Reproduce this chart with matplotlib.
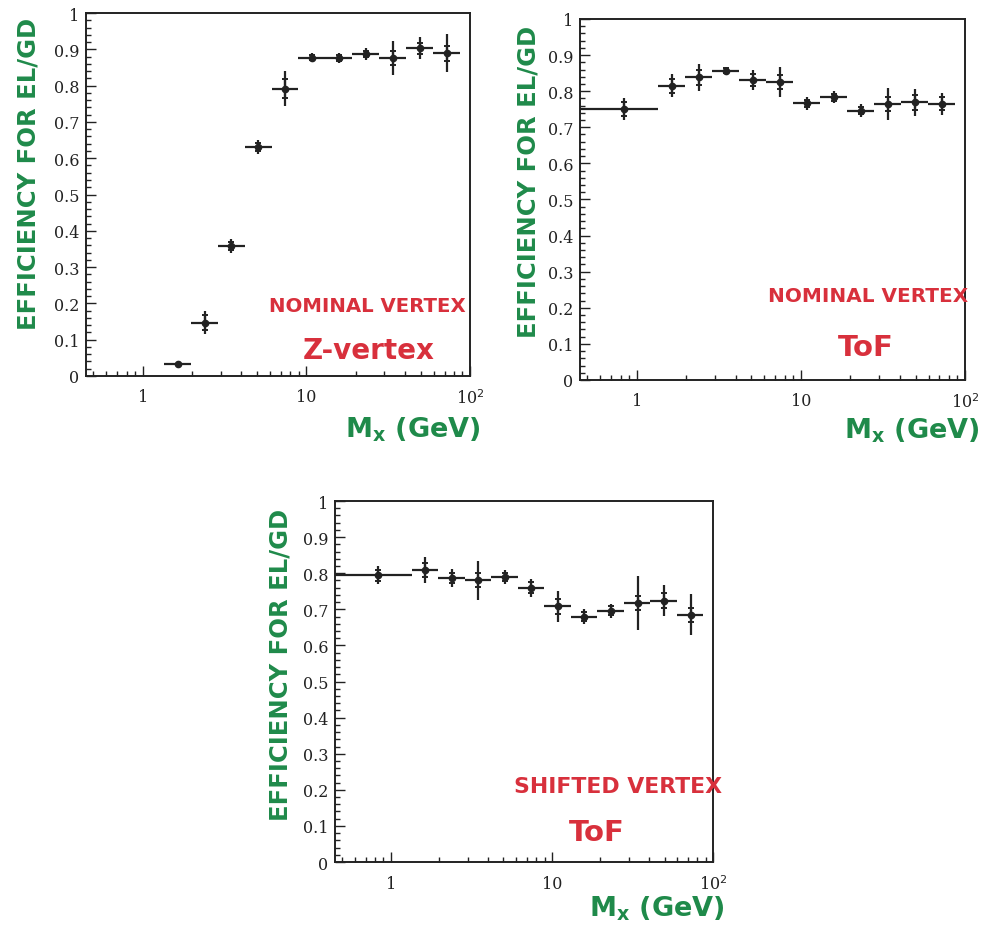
import numpy as np
import matplotlib
matplotlib.use("Agg")
import matplotlib.pyplot as plt
from matplotlib.ticker import MultipleLocator, FixedLocator, FixedFormatter, LogLocator, NullFormatter

# --- Binning in M_x (GeV), shared by all three measurements ---
bin_lo = [0.4, 1.35, 1.97, 2.88, 4.2, 6.13, 8.95, 13.1, 19.1, 27.9, 40.7, 59.4]
bin_hi = [1.35, 1.97, 2.88, 4.2, 6.13, 8.95, 13.1, 19.1, 27.9, 40.7, 59.4, 87.0]
mx = [0.83, 1.64, 2.39, 3.48, 5.09, 7.43, 10.9, 15.9, 23.3, 34.0, 49.8, 72.8]

# Nominal vertex, z-vertex (no entry in the lowest bin)
eff_z = [0.032, 0.147, 0.358, 0.631, 0.792, 0.877, 0.876, 0.887, 0.876, 0.903, 0.889]
err_z = [0.003, 0.031, 0.020, 0.020, 0.048, 0.012, 0.015, 0.016, 0.046, 0.031, 0.052]
stat_z = [0.0, 0.020, 0.010, 0.010, 0.025, 0.007, 0.008, 0.008, 0.020, 0.015, 0.020]

# Nominal vertex, ToF
eff_tof = [0.751, 0.815, 0.838, 0.856, 0.831, 0.825, 0.766, 0.783, 0.746, 0.765, 0.769, 0.765]
err_tof = [0.031, 0.032, 0.037, 0.011, 0.029, 0.042, 0.018, 0.017, 0.018, 0.045, 0.038, 0.031]
stat_tof = [0.020, 0.020, 0.020, 0.007, 0.016, 0.020, 0.010, 0.010, 0.010, 0.020, 0.020, 0.018]

# Shifted vertex, ToF
eff_sh = [0.794, 0.809, 0.787, 0.781, 0.790, 0.760, 0.708, 0.680, 0.696, 0.717, 0.724, 0.685]
err_sh = [0.025, 0.035, 0.024, 0.054, 0.019, 0.025, 0.044, 0.020, 0.020, 0.074, 0.043, 0.057]
stat_sh = [0.015, 0.020, 0.015, 0.020, 0.012, 0.015, 0.020, 0.012, 0.012, 0.020, 0.020, 0.020]

GREEN = "#1f8a4a"
RED = "#d8303c"


def draw_panel(ax, x, lo, hi, y, err, stat, notes):
    x = np.array(x)
    xerr = [x - np.array(lo), np.array(hi) - x]
    ax.errorbar(x, y, xerr=xerr, yerr=err, fmt="o", ms=4.5, color="#222222",
                ecolor="#222222", elinewidth=1.6, capsize=0, zorder=3)
    # inner (statistical) bars marked with small caps
    ax.errorbar(x, y, yerr=stat, fmt="none", ecolor="#222222", elinewidth=1.6,
                capsize=2.5, capthick=1.4, zorder=3)
    ax.set_xscale("log")
    ax.set_xlim(0.45, 100)
    ax.set_ylim(0, 1)
    ax.xaxis.set_major_locator(FixedLocator([1, 10, 100]))
    ax.xaxis.set_major_formatter(FixedFormatter(["1", "10", r"10$^2$"]))
    ax.xaxis.set_minor_locator(LogLocator(base=10, subs=np.arange(2, 10)))
    ax.xaxis.set_minor_formatter(NullFormatter())
    ax.yaxis.set_major_locator(MultipleLocator(0.1))
    ax.yaxis.set_minor_locator(MultipleLocator(0.02))
    ax.yaxis.set_major_formatter(plt.FuncFormatter(lambda v, p: "%g" % round(v, 1)))
    ax.tick_params(which="both", direction="in", top=False, right=False,
                   width=1.0, colors="#222222")
    ax.tick_params(which="major", length=7)
    ax.tick_params(which="minor", length=3.5)
    ax.tick_params(axis="y", pad=5)
    ax.tick_params(axis="x", pad=9)
    for lab in ax.get_xticklabels() + ax.get_yticklabels():
        lab.set_fontfamily("DejaVu Serif")
        lab.set_fontsize(11.5)
    for sp in ax.spines.values():
        sp.set_linewidth(1.4)
        sp.set_color("#222222")
    for (tx, ty, text, fs) in notes:
        ax.text(tx, ty, text, transform=ax.transAxes, ha="center", va="center",
                color=RED, fontsize=fs, fontweight="bold", clip_on=False)


fig = plt.figure(figsize=(9.87, 9.29), dpi=100)

ax1 = fig.add_axes([0.0871, 0.5942, 0.389, 0.3907])
draw_panel(ax1, mx[1:], bin_lo[1:], bin_hi[1:], eff_z, err_z, stat_z,
           [(0.732, 0.193, "NOMINAL VERTEX", 14.2), (0.737, 0.072, "Z-vertex", 20)])

ax2 = fig.add_axes([0.5876, 0.5899, 0.390, 0.3886])
draw_panel(ax2, mx, bin_lo, bin_hi, eff_tof, err_tof, stat_tof,
           [(0.748, 0.233, "NOMINAL VERTEX", 14.4), (0.743, 0.091, "ToF", 21)])

ax3 = fig.add_axes([0.3394, 0.0710, 0.383, 0.3886])
draw_panel(ax3, mx, bin_lo, bin_hi, eff_sh, err_sh, stat_sh,
           [(0.749, 0.211, "SHIFTED VERTEX", 15.8), (0.693, 0.083, "ToF", 21)])

# hand-written axis titles
ylab = "EFFICIENCY FOR EL/GD"
xlab = r"M$_\mathbf{x}$ (GeV)"
for (x, y) in [(0.0284, 0.8127), (0.535, 0.804), (0.2837, 0.2842)]:
    fig.text(x, y, ylab, rotation=90, ha="center", va="center", color=GREEN,
             fontsize=17.5, fontweight="bold")
for (x, y) in [(0.4184, 0.537), (0.924, 0.536), (0.6656, 0.0215)]:
    fig.text(x, y, xlab, ha="center", va="center", color=GREEN,
             fontsize=19.5, fontweight="bold")

fig.savefig("out.png", dpi=100)
